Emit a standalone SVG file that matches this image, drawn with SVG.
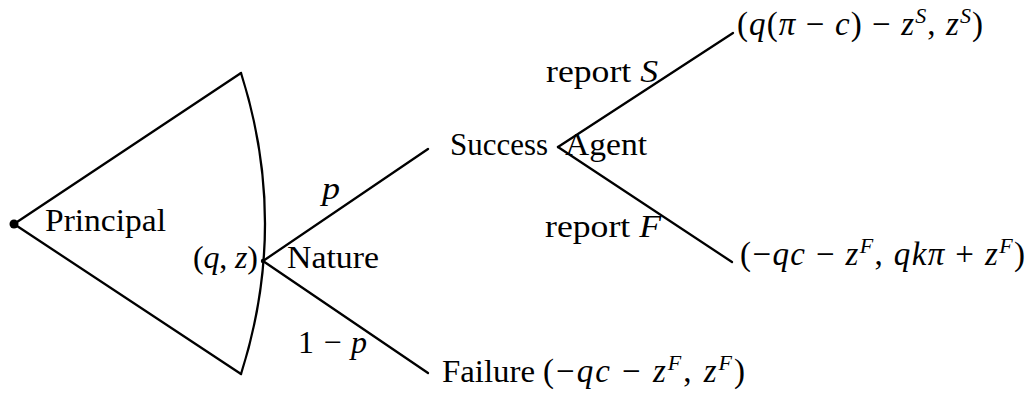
<svg xmlns="http://www.w3.org/2000/svg" width="1029" height="396" viewBox="0 0 1029 396">
<style>
.t { font-family: 'Liberation Serif', 'DejaVu Serif', serif; font-size: 32px; fill: #000; }
.m { font-size: 33px; }
.i { font-style: italic; }
.sup { font-size: 22px; font-style: italic; }
.edge { stroke: #000; stroke-width: 2.3; fill: none; stroke-linecap: round; }
</style>
<rect width="1029" height="396" fill="#fff"/>
<g id="connectors">
  <path class="edge" d="M14,224 L241,73"/>
  <path class="edge" d="M14,224 L241,374"/>
  <path class="edge" d="M241,73 Q289,223.5 241,374"/>
  <path class="edge" d="M263,261 L428,149"/>
  <path class="edge" d="M263,261 L428,373"/>
  <path class="edge" d="M558,147 L733,33"/>
  <path class="edge" d="M558,147 L732,262"/>
</g>
<g id="edge-labels" class="t">
  <text x="322" y="199" class="i" textLength="18" lengthAdjust="spacingAndGlyphs">p</text>
  <text x="298" y="353" textLength="69" lengthAdjust="spacing">1 − <tspan class="i">p</tspan></text>
  <text x="546" y="82" textLength="112" lengthAdjust="spacingAndGlyphs">report <tspan class="i">S</tspan></text>
  <text x="545" y="237" textLength="116" lengthAdjust="spacingAndGlyphs">report <tspan class="i">F</tspan></text>
</g>
<g id="principal" class="t">
  <circle cx="14" cy="224" r="4.5" fill="#000"/>
  <text x="45" y="231" textLength="121" lengthAdjust="spacingAndGlyphs">Principal</text>
</g>
<g id="nature" class="t">
  <circle cx="263" cy="261" r="2.2" fill="#000"/>
  <text x="193" y="268" textLength="65" lengthAdjust="spacing">(<tspan class="i">q</tspan>, <tspan class="i">z</tspan>)</text>
  <text x="287" y="268" textLength="92" lengthAdjust="spacingAndGlyphs">Nature</text>
</g>
<g id="success" class="t">
  <text x="450" y="155" textLength="98" lengthAdjust="spacingAndGlyphs">Success</text>
</g>
<g id="agent" class="t">
  <text x="565" y="155" textLength="82" lengthAdjust="spacingAndGlyphs">Agent</text>
</g>
<g id="payoff-s" class="t m">
  <text x="737" y="35" textLength="246" lengthAdjust="spacing">(<tspan class="i">q</tspan>(<tspan class="i">π</tspan> − <tspan class="i">c</tspan>) − <tspan class="i">z</tspan><tspan class="sup" dy="-12">S</tspan><tspan dy="12">, </tspan><tspan class="i">z</tspan><tspan class="sup" dy="-12">S</tspan><tspan dy="12">)</tspan></text>
</g>
<g id="payoff-f" class="t m">
  <text x="740" y="265" textLength="285" lengthAdjust="spacing">(−<tspan class="i">qc</tspan> − <tspan class="i">z</tspan><tspan class="sup" dy="-12">F</tspan><tspan dy="12">, </tspan><tspan class="i">qkπ</tspan> + <tspan class="i">z</tspan><tspan class="sup" dy="-12">F</tspan><tspan dy="12">)</tspan></text>
</g>
<g id="failure" class="t">
  <text x="442" y="382" textLength="93" lengthAdjust="spacingAndGlyphs">Failure</text>
  <text x="543" y="382" class="m" textLength="202" lengthAdjust="spacing">(−<tspan class="i">qc</tspan> − <tspan class="i">z</tspan><tspan class="sup" dy="-12">F</tspan><tspan dy="12">, </tspan><tspan class="i">z</tspan><tspan class="sup" dy="-12">F</tspan><tspan dy="12">)</tspan></text>
</g>
</svg>
